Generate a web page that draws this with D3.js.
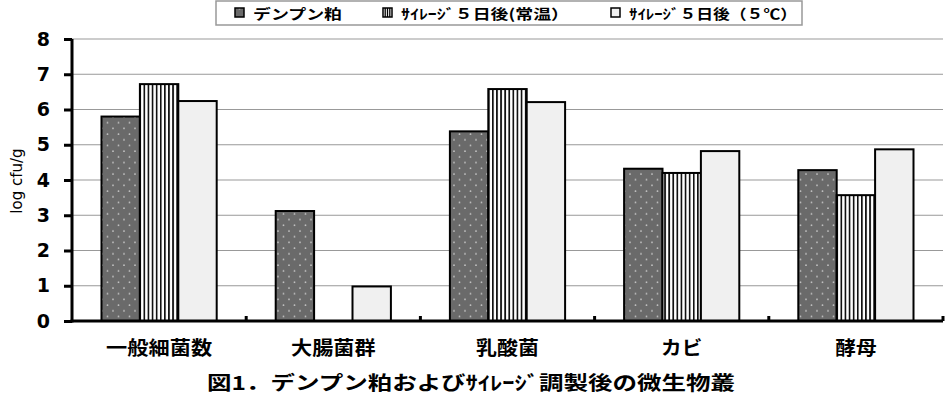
<!DOCTYPE html>
<html>
<head>
<meta charset="utf-8">
<script src="https://cdn.jsdelivr.net/npm/d3@7"></script>
<style>
body{margin:0;background:#fff;}
text{font-family:"Noto Sans CJK JP","DejaVu Sans",sans-serif;}
</style>
</head>
<body>
<svg id="svg" width="945" height="395"></svg>
<script>
var categories=["一般細菌数","大腸菌群","乳酸菌","カビ","酵母"];
var seriesNames=["デンプン粕","ｻｲﾚｰｼﾞ５日後(常温）","ｻｲﾚｰｼﾞ５日後（５℃）"];
var dempun=[5.8,3.12,5.38,4.32,4.28];
var joon=[6.72,0,6.58,4.2,3.57];
var cold=[6.24,0.98,6.21,4.82,4.87];
var yTicks=[0,1,2,3,4,5,6,7,8];
var title="図1．デンプン粕およびｻｲﾚｰｼﾞ調製後の微生物叢";

var values=[dempun,joon,cold];
var fills=["url(#dots)","url(#stripes)","#f0f0f0"];

var svg=d3.select("#svg");
var defs=svg.append("defs");
// dotted dark fill
var p1=defs.append("pattern")
    .attr("id","dots")
    .attr("patternUnits","userSpaceOnUse")
    .attr("width",11).attr("height",11.4);
p1.append("rect").attr("width",11).attr("height",11.4).style("fill","#6a6a6a");
p1.append("circle").attr("cx",3).attr("cy",3).attr("r",0.9).style("fill","#c4c4c4");
p1.append("circle").attr("cx",8.5).attr("cy",8.7).attr("r",0.9).style("fill","#c4c4c4");
// vertical stripes
var p2=defs.append("pattern")
    .attr("id","stripes")
    .attr("patternUnits","userSpaceOnUse")
    .attr("width",4.1).attr("height",10);
p2.append("rect").attr("width",4.1).attr("height",10).style("fill","#fff");
p2.append("rect").attr("x",0).attr("width",1.7).attr("height",10).style("fill","#111");

var mLeft=72,mRight=943,mTop=39,mBottom=321;
var x0=d3.scaleBand().domain(categories).range([mLeft,mRight]);
var x1=d3.scaleBand().domain(d3.range(3)).range([29.5,x0.bandwidth()-29.5]);
var y=d3.scaleLinear().domain([0,8]).range([mBottom,mTop]);

// grid
svg.append("g").selectAll("line").data(yTicks.filter(function(d){return d>0;}))
   .enter().append("line")
   .attr("x1",mLeft).attr("x2",mRight)
   .attr("y1",function(d){return y(d);})
   .attr("y2",function(d){return y(d);})
   .style("stroke","#999").style("stroke-width",1);

// bars
values.forEach(function(vals,s){
  var rows=vals.map(function(v,i){return {cat:categories[i],v:v};})
               .filter(function(d){return d.v>0;});
  svg.append("g").selectAll("rect").data(rows)
     .enter().append("rect")
     .attr("x",function(d){return x0(d.cat)+x1(s);})
     .attr("y",function(d){return y(d.v);})
     .attr("width",x1.bandwidth())
     .attr("height",function(d){return mBottom-y(d.v);})
     .style("fill",fills[s])
     .style("stroke","#000").style("stroke-width",2);
});

// y axis
var yAxis=d3.axisLeft(y).tickValues(yTicks).tickSize(8).tickPadding(14);
var gy=svg.append("g").attr("transform","translate("+mLeft+",0)").call(yAxis);
gy.select(".domain").remove();
gy.selectAll(".tick line").style("stroke","#000").style("stroke-width",3);
gy.selectAll("text").style("font-family","'DejaVu Sans',sans-serif")
  .style("font-size","19px").style("font-weight","bold").attr("fill","#000");
svg.append("line").attr("x1",mLeft).attr("x2",mLeft).attr("y1",mTop).attr("y2",mBottom+1.5)
   .style("stroke","#000").style("stroke-width",3);

// x axis
var xAxis=d3.axisBottom(x0).tickSize(0).tickPadding(21);
var gx=svg.append("g").attr("transform","translate(0,"+mBottom+")").call(xAxis);
gx.select(".domain").remove();
gx.selectAll("text").style("font-size","19px").style("font-weight","bold")
  .attr("fill","#000").attr("textLength",function(d){return d.length*21.6-2;})
  .attr("lengthAdjust","spacingAndGlyphs");
svg.append("line").attr("x1",mLeft-1.5).attr("x2",mRight).attr("y1",mBottom).attr("y2",mBottom)
   .style("stroke","#000").style("stroke-width",3);
svg.append("g").selectAll("line").data(categories)
   .enter().append("line")
   .attr("x1",function(d){return x0(d)+x0.bandwidth();})
   .attr("x2",function(d){return x0(d)+x0.bandwidth();})
   .attr("y1",mBottom).attr("y2",mBottom-5)
   .style("stroke","#000").style("stroke-width",3);

// y label
svg.append("text")
   .attr("transform","translate(22,181) rotate(-90)")
   .attr("text-anchor","middle")
   .style("font-family","'DejaVu Sans',sans-serif")
   .style("font-size","15px")
   .text("log cfu/g");

// legend
svg.append("rect").attr("x",216).attr("y",1).attr("width",586).attr("height",24)
   .style("fill","#fff").style("stroke","#999").style("stroke-width",1.5);
var legX=[235,383,611];
var legW=[89,168,168];
for(var k=0;k<3;k++){
  svg.append("rect").attr("x",legX[k]).attr("y",8).attr("width",9).attr("height",9)
     .style("fill",k==1?"#fff":fills[k]).style("stroke","#000").style("stroke-width",1.5);
  if(k==1){
    [2.2,4.5,6.8].forEach(function(xx){
      svg.append("line").attr("x1",legX[k]+xx).attr("x2",legX[k]+xx).attr("y1",8).attr("y2",17)
         .style("stroke","#000").style("stroke-width",1.3);
    });
  }
  svg.append("text").attr("x",legX[k]+18).attr("y",19)
     .style("font-size","14px").style("font-weight","bold")
     .attr("textLength",legW[k]).attr("lengthAdjust","spacingAndGlyphs")
     .text(seriesNames[k]);
}

// caption
svg.append("text").attr("x",471).attr("y",390).attr("text-anchor","middle")
   .style("font-size","19px").style("font-weight","bold")
   .attr("textLength",528).attr("lengthAdjust","spacingAndGlyphs")
   .text(title);
</script>
</body>
</html>
